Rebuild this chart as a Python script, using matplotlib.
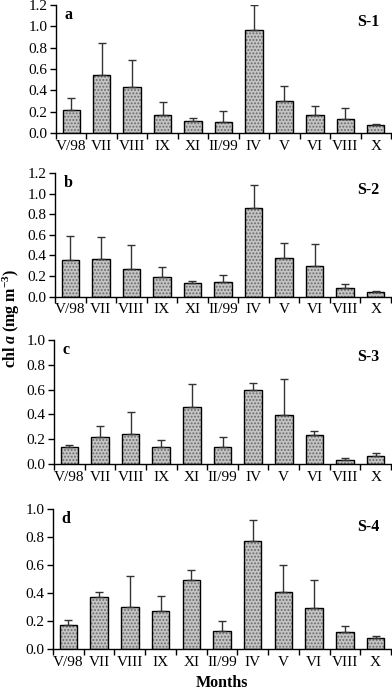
import matplotlib
matplotlib.use("Agg")
import matplotlib.pyplot as plt
import numpy as np

plt.rcParams['font.family'] = 'Liberation Serif'
plt.rcParams['mathtext.fontset'] = 'custom'
plt.rcParams['mathtext.rm'] = 'Liberation Serif'
plt.rcParams['mathtext.bf'] = 'Liberation Serif:bold'
plt.rcParams['mathtext.it'] = 'Liberation Serif:italic'
plt.rcParams['mathtext.bfit'] = 'Liberation Serif:bold:italic'
plt.rcParams['hatch.linewidth'] = 0.9

# months sampled
months = ['V/98', 'VII', 'VIII', 'IX', 'XI', 'II/99', 'IV', 'V', 'VI', 'VIII', 'X']

# chl a means and upper error bar tops, per station
s1_mean = [0.22, 0.54, 0.43, 0.165, 0.115, 0.105, 0.97, 0.30, 0.165, 0.135, 0.075]
s1_top = [0.325, 0.84, 0.685, 0.29, 0.14, 0.21, 1.20, 0.44, 0.25, 0.23, 0.085]

s2_mean = [0.355, 0.36, 0.27, 0.185, 0.13, 0.14, 0.86, 0.37, 0.295, 0.08, 0.04]
s2_top = [0.59, 0.58, 0.50, 0.29, 0.155, 0.21, 1.08, 0.52, 0.51, 0.12, 0.05]

s3_mean = [0.136, 0.216, 0.245, 0.136, 0.46, 0.136, 0.60, 0.395, 0.23, 0.032, 0.061]
s3_top = [0.155, 0.31, 0.42, 0.19, 0.645, 0.22, 0.656, 0.685, 0.27, 0.048, 0.09]

s4_mean = [0.17, 0.37, 0.30, 0.274, 0.49, 0.126, 0.774, 0.405, 0.295, 0.12, 0.08]
s4_top = [0.21, 0.41, 0.52, 0.38, 0.565, 0.20, 0.92, 0.60, 0.49, 0.164, 0.093]

panels = [
    ('a', 'S-1', s1_mean, s1_top, 1.2),
    ('b', 'S-2', s2_mean, s2_top, 1.2),
    ('c', 'S-3', s3_mean, s3_top, 1.0),
    ('d', 'S-4', s4_mean, s4_top, 1.0),
]

W, H = 392, 690
fig = plt.figure(figsize=(W / 100, H / 100), dpi=100)

# axes boxes in pixels: left, top, bottom
boxes = [(56, 5, 133), (55, 173, 296.5), (54, 340, 464), (53, 509, 649)]
right = 391

x = np.arange(len(months))
for (lab, station, mean, top, ymax), (l, t, b) in zip(panels, boxes):
    ax = fig.add_axes([l / W, 1 - b / H, (right - l) / W, (b - t) / H])
    mean = np.array(mean)
    err = np.array(top) - mean
    ax.bar(x, mean, width=0.57, color='#c4c4c4', hatch='.....',
           edgecolor='#6a6a6a', linewidth=0, zorder=2)
    ax.bar(x, mean, width=0.57, fill=False, edgecolor='black',
           linewidth=1.0, zorder=3)
    ax.errorbar(x, mean, yerr=[np.zeros_like(err), err], fmt='none',
                ecolor='#333333', elinewidth=1.0, capsize=2.6, capthick=1.0,
                zorder=4)
    ax.set_xlim(-0.5, len(months) - 0.5)
    ax.set_ylim(0, ymax)
    ax.set_yticks(np.arange(0, ymax + 0.01, 0.2))
    ax.set_yticklabels([f'{v:.1f}' for v in np.arange(0, ymax + 0.01, 0.2)])
    ax.set_xticks(np.arange(-0.5, len(months), 1.0))
    ax.set_xticklabels([])
    ax.set_xticks(x, minor=True)
    ax.set_xticklabels(months, minor=True)
    ax.tick_params(axis='x', which='major', direction='out', length=4, width=1)
    ax.tick_params(axis='x', which='minor', length=0, pad=5, labelsize=11)
    ax.tick_params(axis='y', direction='out', length=4, width=1, labelsize=11, pad=2)
    for s in ['top', 'right']:
        ax.spines[s].set_visible(False)
    for s in ['left', 'bottom']:
        ax.spines[s].set_linewidth(1.0)
    ax.text(0.025, 0.985, lab, transform=ax.transAxes, fontsize=11.5,
            fontweight='bold', va='top', ha='left')
    ax.text(0.965, 0.93, station, transform=ax.transAxes, fontsize=11.5,
            fontweight='bold', va='top', ha='right')

fig.text(222 / W, 1 - 683 / H, 'Months', fontsize=11.5, fontweight='bold',
         ha='center', va='center')
fig.text(11 / W, 1 - 318 / H, r'$\mathbf{chl}\ \mathbfit{a}\ \mathbf{(mg\ m^{-3})}$',
         fontsize=11.5, rotation=90, ha='center', va='center')

fig.savefig('out.png', dpi=100)
